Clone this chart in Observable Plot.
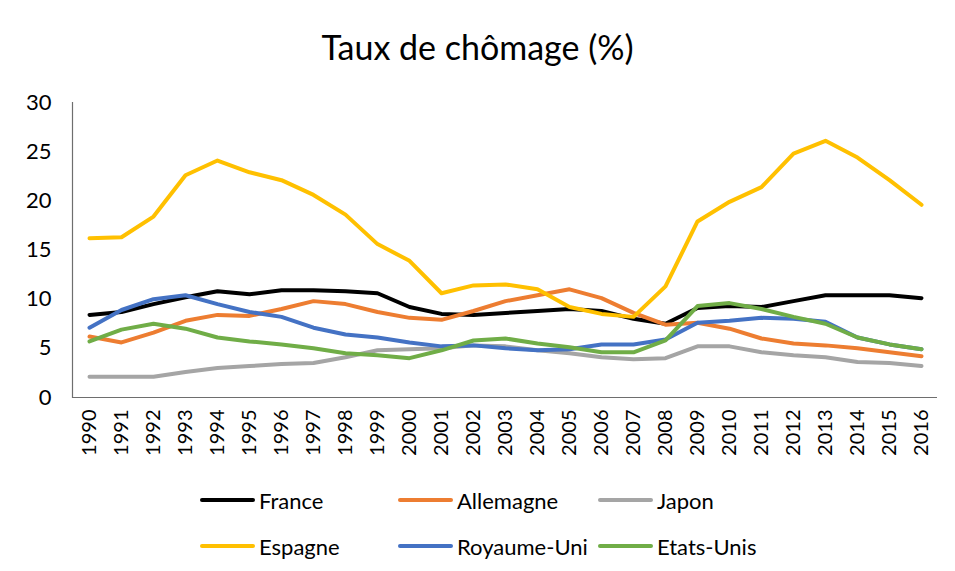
<!DOCTYPE html>
<html>
<head>
<meta charset="utf-8">
<script src="https://cdn.jsdelivr.net/npm/d3@7"></script>
<script src="https://cdn.jsdelivr.net/npm/@observablehq/plot@0.6"></script>
<style>
  html, body { margin: 0; padding: 0; background: #fff; }
  #wrap { position: relative; width: 955px; height: 571px; font-family: Lato, "Open Sans", sans-serif; color: #000; overflow: hidden; }
  #title { position: absolute; left: 0; width: 955px; top: 30px; height: 34px; line-height: 34px; text-align: center; font-size: 34px; color: #000; }
  #chart { position: absolute; left: 0; top: 80px; }
  .leg { position: absolute; display: flex; align-items: center; font-size: 22px; color: #000; white-space: nowrap; }
  .leg .sw { width: 55px; height: 4px; border-radius: 2px; margin-right: 4px; }
</style>
</head>
<body>
<div id="wrap">
  <div id="title">Taux de chômage (%)</div>
  <div id="chart"></div>
  <div id="legend"></div>
</div>
<script>
const years = [1990,1991,1992,1993,1994,1995,1996,1997,1998,1999,2000,2001,2002,2003,2004,2005,2006,2007,2008,2009,2010,2011,2012,2013,2014,2015,2016];
const seriesNames = ["France","Allemagne","Japon","Espagne","Royaume-Uni","Etats-Unis"];
const seriesColors = ["#000000","#ED7D31","#A5A5A5","#FFC000","#4472C4","#70AD47"];
const france     = [8.4,8.7,9.5,10.2,10.8,10.5,10.9,10.9,10.8,10.6,9.2,8.5,8.4,8.6,8.8,9.0,8.8,8.0,7.5,9.1,9.3,9.2,9.8,10.4,10.4,10.4,10.1];
const allemagne  = [6.2,5.6,6.6,7.8,8.4,8.3,9.0,9.8,9.5,8.7,8.1,7.9,8.8,9.8,10.4,11.0,10.1,8.6,7.4,7.6,7.0,6.0,5.5,5.3,5.0,4.6,4.2];
const japon      = [2.1,2.1,2.1,2.6,3.0,3.2,3.4,3.5,4.1,4.8,4.9,5.0,5.3,5.2,4.8,4.5,4.1,3.9,4.0,5.2,5.2,4.6,4.3,4.1,3.6,3.5,3.2];
const espagne    = [16.2,16.3,18.4,22.6,24.1,22.9,22.1,20.6,18.6,15.6,13.9,10.6,11.4,11.5,11.0,9.2,8.5,8.2,11.3,17.9,19.9,21.4,24.8,26.1,24.4,22.1,19.6];
const royaumeUni = [7.1,8.9,10.0,10.4,9.5,8.7,8.2,7.1,6.4,6.1,5.6,5.2,5.3,5.0,4.8,4.9,5.4,5.4,5.9,7.6,7.8,8.1,8.0,7.7,6.1,5.4,4.9];
const etatsUnis  = [5.7,6.9,7.5,7.0,6.1,5.7,5.4,5.0,4.5,4.3,4.0,4.8,5.8,6.0,5.5,5.1,4.6,4.6,5.8,9.3,9.6,9.0,8.2,7.5,6.1,5.4,4.9];
const yTicks = [0,5,10,15,20,25,30];

const seriesValues = [france, allemagne, japon, espagne, royaumeUni, etatsUnis];
const data = [];
seriesNames.forEach((name, i) => {
  years.forEach((yr, j) => data.push({country: name, year: yr, value: seriesValues[i][j]}));
});

const plot = Plot.plot({
  width: 955,
  height: 390,
  marginLeft: 72,
  marginRight: 18,
  marginTop: 22,
  marginBottom: 73,
  style: { fontFamily: "Lato, 'Open Sans', sans-serif", fontSize: "16px", color: "#000", background: "transparent" },
  x: { type: "point", domain: years, padding: 0.5, label: null },
  y: { domain: [0, 30], label: null },
  color: { domain: seriesNames, range: seriesColors },
  marks: [
    Plot.axisY({ ticks: yTicks, tickSize: 0, tickPadding: 21, fontSize: 22, label: null }),
    Plot.axisX({ tickSize: 0, tickPadding: 12, tickRotate: -90, fontSize: 20, tickFormat: d => String(d), label: null }),
    Plot.frame({ anchor: "left", stroke: "#6e6e6e", strokeWidth: 1.2 }),
    Plot.ruleY([0], { stroke: "#6e6e6e", strokeWidth: 1.2 }),
    Plot.line(data, { x: "year", y: "value", z: "country", stroke: "country", strokeWidth: 4, strokeLinejoin: "round", strokeLinecap: "round" })
  ]
});
document.getElementById("chart").appendChild(plot);

// legend
const legendPos = [
  [200, 500], [398, 500], [598, 500],
  [200, 546], [398, 546], [598, 546]
];
const legend = document.getElementById("legend");
seriesNames.forEach((name, i) => {
  const d = document.createElement("div");
  d.className = "leg";
  d.style.left = legendPos[i][0] + "px";
  d.style.top = (legendPos[i][1] - 14) + "px";
  d.style.height = "28px";
  const sw = document.createElement("span");
  sw.className = "sw";
  sw.style.background = seriesColors[i];
  const t = document.createElement("span");
  t.textContent = name;
  d.appendChild(sw); d.appendChild(t);
  legend.appendChild(d);
});
</script>
</body>
</html>
